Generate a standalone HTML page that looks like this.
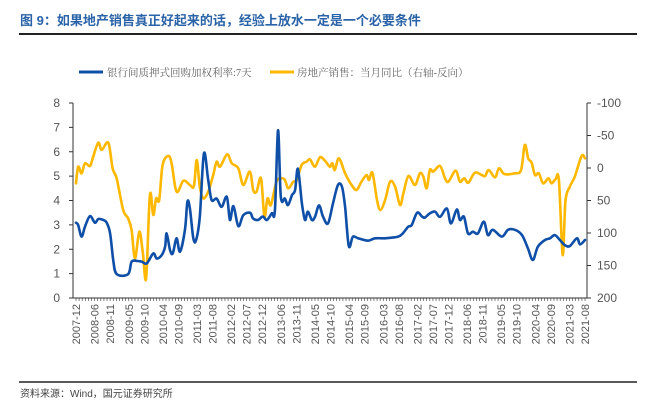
<!DOCTYPE html>
<html><head><meta charset="utf-8"><style>
body{margin:0;background:#fff;width:657px;height:409px;overflow:hidden;font-family:"Liberation Sans","Noto Sans CJK SC",sans-serif}
svg{display:block}
</style></head><body>
<svg id="c" width="657" height="409">
<text x="20" y="25" font-size="13" font-weight="bold" fill="#2A63A8" font-family="Liberation Sans, Noto Sans CJK SC, sans-serif">图 9：如果地产销售真正好起来的话，经验上放水一定是一个必要条件</text>
<line x1="19" y1="34" x2="637" y2="34" stroke="#222" stroke-width="2"/>
<g font-size="10.5" fill="#666" font-family="Liberation Serif, Noto Serif CJK SC, serif">
<g><line x1="79" y1="72" x2="103" y2="72" stroke="#0F4FA8" stroke-width="3"/><text x="107" y="76">银行间质押式回购加权利率:7天</text></g>
<g><line x1="270" y1="72" x2="294" y2="72" stroke="#FFB800" stroke-width="3"/><text x="297" y="76">房地产销售：当月同比（右轴-反向）</text></g>
</g>
<g id="axes"></g>
<g id="series"></g>
<line x1="19" y1="382" x2="637" y2="382" stroke="#222" stroke-width="1.5"/>
<text x="20" y="397" font-size="10" fill="#444">资料来源：Wind，国元证券研究所</text>
</svg>
<script>
const leftTicks=[0,1,2,3,4,5,6,7,8];
const rightTicks=[-100,-50,0,50,100,150,200];
const xLabels=["2007-12","2008-06","2008-11","2009-05","2009-10","2010-04","2010-09","2011-03","2011-08","2012-02","2012-07","2012-12","2013-06","2013-11","2014-05","2014-10","2015-04","2015-09","2016-03","2016-08","2017-02","2017-07","2017-12","2018-06","2018-11","2019-05","2019-10","2020-04","2020-09","2021-03","2021-08"];
// months since 2007-12
const repoT=[0,0.7,1.8,2.9,4.5,6.1,7.2,8.8,9.9,11.0,12.0,13.1,16.8,17.9,19.6,21.2,22.8,24.9,26.0,27.6,28.7,29.2,30.3,31.2,32.4,33.5,35.1,35.9,36.7,37.8,38.7,39.9,41.2,42.6,43.7,45.3,46.9,48.6,49.6,50.7,52.3,53.9,56.1,57.0,58.6,60.2,61.5,63.1,64.1,65.1,66.0,67.3,68.3,69.6,70.6,71.5,72.8,73.8,74.7,76.0,77.0,78.3,79.6,81.2,82.8,84.4,85.7,86.7,87.9,89.2,90.9,94.1,96.3,99.5,103.7,105.3,107.0,108.2,109.9,111.5,112.4,114.0,115.7,117.3,119.5,120.8,122.7,123.7,125.0,126.3,127.9,129.5,131.4,132.7,134.3,137.2,139.2,141.4,143.7,145.6,147.2,148.8,151.1,152.7,154.3,155.9,157.5,159.1,161.4,162.4,164.0];
const repoV=[3.09,2.99,2.52,2.93,3.36,3.09,3.24,3.2,3.09,2.65,1.56,0.98,0.98,1.49,1.52,1.49,1.42,1.83,1.62,1.76,2.1,2.65,1.97,1.83,2.45,1.9,2.79,3.95,3.67,2.45,2.38,3.33,5.93,4.84,4.02,4.08,3.74,4.15,3.2,3.77,2.95,3.4,3.5,3.27,3.2,3.34,3.2,3.48,3.6,6.88,4.15,4.08,3.81,4.22,4.43,5.3,3.88,3.2,3.54,3.2,3.33,3.8,3.33,3.06,3.88,4.63,4.56,3.74,2.13,2.51,2.45,2.35,2.45,2.45,2.51,2.65,2.92,3.0,3.5,3.34,3.3,3.47,3.54,3.33,3.67,3.06,3.63,3.2,3.33,2.65,2.72,2.65,3.13,2.58,2.8,2.52,2.8,2.8,2.58,2.04,1.56,2.1,2.38,2.45,2.58,2.38,2.17,2.13,2.45,2.2,2.38];
const salesT=[0,0.7,1.8,2.9,4.5,5.6,7.2,8.3,10.4,11.8,13.1,15.2,16.8,17.9,19.0,20.4,21.5,22.6,23.8,24.9,25.8,26.8,27.9,29.7,30.8,32.4,34.6,36.7,38.0,38.9,39.9,41.0,42.6,44.2,45.3,46.4,48.7,50.2,52.3,53.9,56.0,57.1,58.2,59.6,60.7,61.7,62.8,64.6,66.3,67.3,68.4,70.0,71.1,72.7,74.3,75.4,77.0,78.6,80.2,81.8,82.6,83.4,84.7,86.7,88.8,90.4,92.0,93.6,94.4,95.5,96.9,98.0,99.6,101.2,102.8,104.4,105.5,107.1,109.2,110.8,111.9,113.0,114.0,115.1,117.3,118.9,120.0,122.3,123.7,125.1,126.4,128.5,130.7,131.8,133.0,135.0,136.3,138.0,141.4,143.4,144.6,145.7,146.8,147.9,149.1,150.5,152.2,153.2,154.5,155.6,156.8,157.7,159.1,160.7,162.9,164.0];
const salesV=[23.6,-2,8.2,-7.2,-3.1,-18.5,-39,-27.7,-39,0.5,16,64.6,77.4,95.4,139,98,128.7,169.8,41.5,72.3,46.7,49.2,-4.6,-18.5,-7.2,36.4,19.5,26.2,27.7,-12.3,28.7,46.7,36.4,10.8,-9.7,-2,-21,-7.2,0.5,26.2,5.6,33.8,36.4,15.9,74.9,46.7,56.9,21,15.9,18.5,31.3,21,18.5,-4.6,-9.7,-13.3,-2,-16.4,-11.3,-2,-7.2,3.1,-14.9,8.2,26.2,33.8,21,10.8,18.5,7.2,46.7,64.6,49.2,21,28.7,56.9,39,12.3,26.2,8.2,13.3,31.3,3.1,5.6,-3.1,15.9,21,4.1,21,15.9,22.6,7.2,10.8,12.3,3.1,14.4,0.5,9.2,8.2,3.1,-35.4,-14.9,-8.2,10.8,8.2,23.6,15.9,23.6,17.4,18.5,133.8,51.8,28.7,13.3,-18.5,-14.9];
const labelMonths=[0,6,11,17,22,28,33,39,44,50,55,60,66,71,77,82,88,93,99,104,110,115,120,126,131,137,142,148,153,159,164];

const X0=76,X1=585,YT=103,YB=298,NM=164;
const xs=m=>X0+(X1-X0)*m/NM;
const yl=v=>YB-(YB-YT)*v/8;
const yr=v=>YT+(YB-YT)*(v+100)/300;
const NS='http://www.w3.org/2000/svg';
const ax=document.getElementById('axes'),se=document.getElementById('series');
function mk(tag,attrs,parent,txt){const e=document.createElementNS(NS,tag);for(const k in attrs)e.setAttribute(k,attrs[k]);if(txt!==undefined)e.textContent=txt;parent.appendChild(e);return e;}
let e;
e=mk('line',{x1:73,y1:YT,x2:73,y2:YB,stroke:'#333','stroke-width':1},ax);


e=mk('line',{x1:587,y1:YT,x2:587,y2:YB,stroke:'#333','stroke-width':1},ax);


e=mk('line',{x1:73,y1:YB,x2:587,y2:YB,stroke:'#333','stroke-width':1},ax);


leftTicks.forEach(v=>{
  mk('line',{x1:69,y1:yl(v),x2:73,y2:yl(v),stroke:'#333'},ax);
  e=mk('text',{x:60,y:yl(v)+4,'font-size':12,fill:'#555','text-anchor':'end'},ax,String(v));
  
  
});
rightTicks.forEach(v=>{
  mk('line',{x1:587,y1:yr(v),x2:591,y2:yr(v),stroke:'#333'},ax);
  e=mk('text',{x:597,y:yr(v)+4,'font-size':12,fill:'#555'},ax,String(v));
  
  
});
for(let m=0;m<=NM;m++){mk('line',{x1:xs(m),y1:YB,x2:xs(m),y2:YB+3,stroke:'#333','stroke-width':0.6},ax);}
xLabels.forEach((l,i)=>{
  const x=xs(labelMonths[i])+4,y=YB+6;
  e=mk('text',{x:x,y:y,'font-size':11,fill:'#555','text-anchor':'end',transform:`rotate(-90 ${x} ${y})`},ax,l);
  
  
});
function path(T,V,yf){
  const P=T.map((t,i)=>[xs(t),yf(V[i])]);
  let d='M'+P[0][0].toFixed(1)+','+P[0][1].toFixed(1);
  for(let i=0;i<P.length-1;i++){
    const p0=P[i-1]||P[i],p1=P[i],p2=P[i+1],p3=P[i+2]||p2,k=1/6;
    const c1=[p1[0]+(p2[0]-p0[0])*k,p1[1]+(p2[1]-p0[1])*k];
    const c2=[p2[0]-(p3[0]-p1[0])*k,p2[1]-(p3[1]-p1[1])*k];
    d+='C'+c1.map(v=>v.toFixed(1)).join(',')+' '+c2.map(v=>v.toFixed(1)).join(',')+' '+p2[0].toFixed(1)+','+p2[1].toFixed(1);
  }
  return d;
}
e=mk('path',{d:path(salesT,salesV,yr),fill:'none',stroke:'#FFB800','stroke-width':2.6,'stroke-linejoin':'round','stroke-linecap':'round'},se);


e=mk('path',{d:path(repoT,repoV,yl),fill:'none',stroke:'#0F4FA8','stroke-width':2.6,'stroke-linejoin':'round','stroke-linecap':'round'},se);


</script>
</body></html>
